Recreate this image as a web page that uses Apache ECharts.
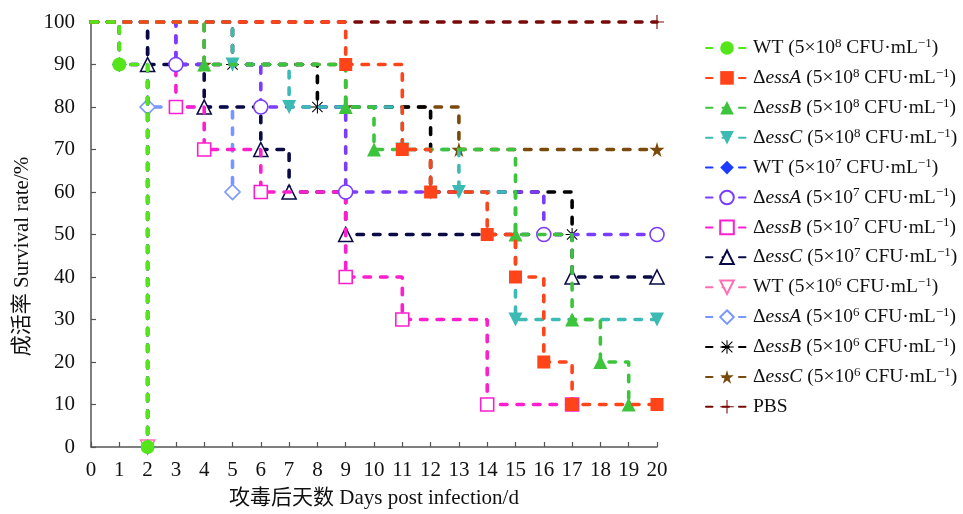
<!DOCTYPE html>
<html>
<head>
<meta charset="utf-8">
<script src="https://cdn.jsdelivr.net/npm/echarts@6/dist/echarts.min.js"></script>
<style>
  html, body { margin: 0; padding: 0; background: #fff; }
  #chart { width: 963px; height: 514px; }
</style>
</head>
<body>
<div id="chart"></div>
<script>
// Survival (%) by day post infection, one [day, rate] list per group
const wt8   = [[0,100],[1,90],[2,0]];
const essA8 = [[0,100],[9,90],[11,70],[12,60],[14,50],[15,40],[16,20],[17,10],[20,10]];
const essB8 = [[0,100],[4,90],[9,80],[10,70],[15,50],[17,30],[18,20],[19,10]];
const essC8 = [[0,100],[5,90],[7,80],[11,70],[13,60],[15,30],[20,30]];
const wt7   = [[0,100],[1,90],[2,0]];
const essA7 = [[0,100],[3,90],[6,80],[9,60],[16,50],[20,50]];
const essB7 = [[0,100],[3,80],[4,70],[6,60],[9,40],[11,30],[14,10],[17,10]];
const essC7 = [[0,100],[2,90],[4,80],[6,70],[7,60],[9,50],[17,40],[20,40]];
const wt6   = [[0,100],[1,90],[2,0]];
const essA6 = [[0,100],[2,80],[5,60]];
const essB6 = [[0,100],[5,90],[8,80],[12,60],[17,50]];
const essC6 = [[0,100],[4,90],[9,80],[13,70],[20,70]];
const pbs   = [[0,100],[20,100]];

const xTicks = [0, 20, 1];   // min, max, step
const yTicks = [0, 100, 10];

const FONT = "'Liberation Serif', 'Noto Sans CJK SC', serif";

const STAR = 'path://M50,0 L61,35 L98,35 L68,57 L79,91 L50,70 L21,91 L32,57 L2,35 L39,35 Z';
const ASTERISK = 'path://M9.2,0 h1.6 v20 h-1.6 z M0,9.2 h20 v1.6 h-20 z M1.5,2.6 L2.6,1.5 L18.5,17.4 L17.4,18.5 z M17.4,1.5 L18.5,2.6 L2.6,18.5 L1.5,17.4 z';
const PLUS = 'path://M9.2,0 h1.6 v20 h-1.6 z M0,9.2 h20 v1.6 h-20 z';

// name, data, colour, symbol, hollow, strain, dose exponent, marker on last point only
const groups = [
  ['WT8',   wt8,   '#55e619', 'circle',   false, 'WT',   '8', false],
  ['essA8', essA8, '#ff4419', 'rect',     false, 'essA', '8', false],
  ['essB8', essB8, '#3cc43c', 'triangle', false, 'essB', '8', false],
  ['essC8', essC8, '#3cbab4', 'down',     false, 'essC', '8', false],
  ['WT7',   wt7,   '#1e3cff', 'diamond',  false, 'WT',   '7', false],
  ['essA7', essA7, '#7a3cff', 'circle',   true,  'essA', '7', false],
  ['essB7', essB7, '#ff1ece', 'rect',     true,  'essB', '7', false],
  ['essC7', essC7, '#0a0a46', 'triangle', true,  'essC', '7', false],
  ['WT6',   wt6,   '#ff6eb4', 'down',     true,  'WT',   '6', true],
  ['essA6', essA6, '#7896ff', 'diamond',  true,  'essA', '6', false],
  ['essB6', essB6, '#000000', ASTERISK,   false, 'essB', '6', false],
  ['essC6', essC6, '#7a4a0a', STAR,       false, 'essC', '6', false],
  ['PBS',   pbs,   '#7a0a0a', PLUS,       false, 'PBS',  null, false]
];

const legendText = {};
groups.forEach(g => {
  const strain = g[5], exp = g[6];
  if (strain === 'PBS') { legendText[g[0]] = 'PBS'; return; }
  const head = strain === 'WT' ? 'WT' : 'Δ{i|' + strain + '}';
  legendText[g[0]] = head + ' (5×10{s|' + exp + '} CFU·mL{s|−1})';
});

const series = groups.map((g, idx) => {
  let symbol = g[3], rotate = 0, size = 14;
  if (symbol === 'down') { symbol = 'triangle'; rotate = 180; }
  if (symbol === 'rect') size = 13;
  if (symbol === 'diamond') size = 15;
  if (symbol === STAR) size = 15;
  if (symbol === ASTERISK) size = 13;
  const hollow = g[4];
  const lastOnly = g[7];
  const n = g[1].length;
  return {
    name: g[0],
    type: 'line',
    step: 'end',
    clip: false,
    z: 40 - idx,
    data: g[1].map((p, i) =>
      (i === 0 || (lastOnly && i < n - 1)) ? { value: p, symbol: 'none' } : p),
    symbol: symbol,
    symbolSize: size,
    symbolRotate: rotate,
    showAllSymbol: true,
    lineStyle: { color: g[2], width: 3.6, type: [6.5, 10], cap: 'round' },
    itemStyle: hollow
      ? { color: '#ffffff', borderColor: g[2], borderWidth: 1.6, opacity: 1 }
      : { color: g[2], borderWidth: 0, opacity: 1 },
    emphasis: { disabled: true },
    animation: false
  };
});

const chart = echarts.init(document.getElementById('chart'), null, { renderer: 'canvas' });
chart.setOption({
  backgroundColor: '#ffffff',
  animation: false,
  grid: { left: 91, right: 306, top: 22, bottom: 67, containLabel: false, outerBoundsMode: 'none' },
  xAxis: {
    type: 'value',
    min: xTicks[0], max: xTicks[1], interval: xTicks[2],
    name: '攻毒后天数 Days post infection/d',
    nameLocation: 'middle', nameGap: 41,
    nameTextStyle: { fontFamily: FONT, fontSize: 21, color: '#111' },
    axisLine: { show: true, lineStyle: { color: '#555', width: 1.5 } },
    axisTick: { show: true, inside: true, length: 5, lineStyle: { color: '#555', width: 1.2 } },
    axisLabel: { fontFamily: FONT, fontSize: 21, color: '#111', margin: 13 },
    splitLine: { show: false }
  },
  yAxis: {
    type: 'value',
    min: yTicks[0], max: yTicks[1], interval: yTicks[2],
    name: '成活率 Survival rate/%',
    nameLocation: 'middle', nameGap: 57,
    nameTextStyle: { fontFamily: FONT, fontSize: 21, color: '#111', padding: [0, 44, 0, 0] },
    axisLine: { show: true, lineStyle: { color: '#555', width: 1.5 } },
    axisTick: { show: true, inside: true, length: 5, lineStyle: { color: '#555', width: 1.2 } },
    axisLabel: { fontFamily: FONT, fontSize: 21, color: '#111', margin: 16 },
    splitLine: { show: false }
  },
  legend: {
    orient: 'vertical',
    left: 700, top: 32,
    itemWidth: 42, itemHeight: 17,
    itemGap: 7.9,
    selectedMode: false,
    data: groups.map(g => g[0]),
    formatter: name => legendText[name],
    textStyle: {
      fontFamily: FONT, fontSize: 19.5, color: '#111', lineHeight: 22,
      rich: {
        i: { fontFamily: FONT, fontSize: 19.5, fontStyle: 'italic', color: '#111', lineHeight: 22 },
        s: { fontFamily: FONT, fontSize: 13, color: '#111', verticalAlign: 'top', lineHeight: 13 }
      }
    }
  },
  series: series
});
</script>
</body>
</html>
